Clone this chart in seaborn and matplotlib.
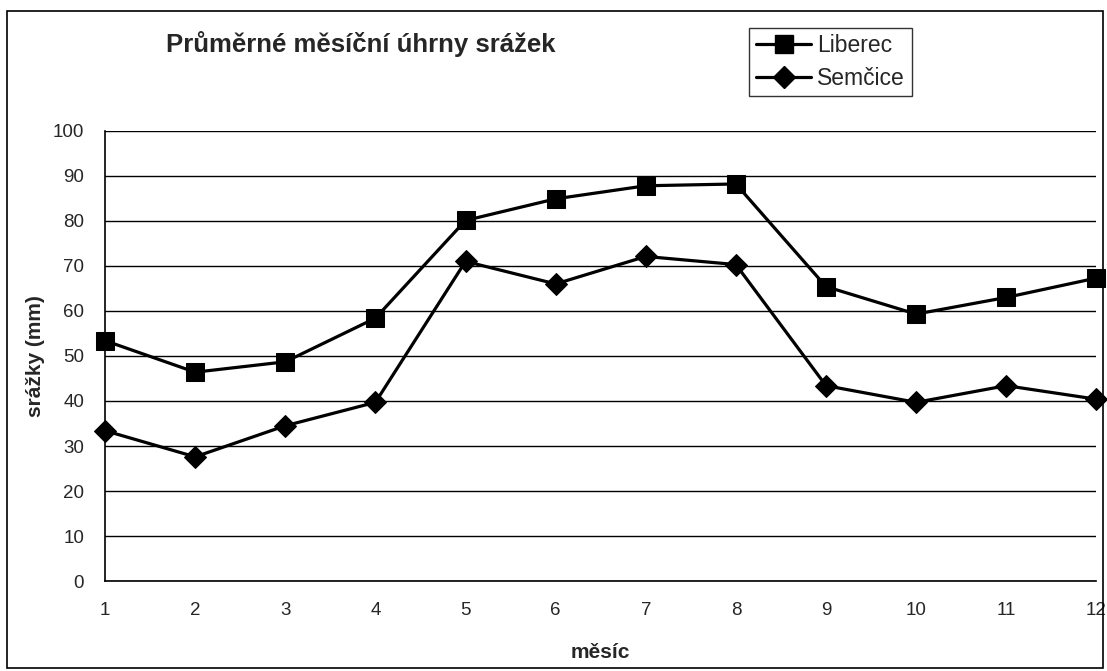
import pandas as pd
import matplotlib
matplotlib.use("Agg")
import matplotlib.pyplot as plt
import seaborn as sns

# --- DATA ---
months = list(range(1, 13))
liberec = [53.4, 46.4, 48.7, 58.4, 80.1, 84.9, 87.8, 88.2, 65.4, 59.3, 63.0, 67.3]
semcice = [33.4, 27.6, 34.5, 39.7, 71.0, 66.0, 72.1, 70.3, 43.4, 39.7, 43.4, 40.4]
y_ticks = list(range(0, 101, 10))

df = pd.DataFrame({
    "měsíc": months * 2,
    "srážky": liberec + semcice,
    "stanice": ["Liberec"] * 12 + ["Semčice"] * 12,
})

# --- STYLE ---
sns.set_theme(style="white")
plt.rcParams['font.family'] = ['Liberation Sans', 'DejaVu Sans']

fig = plt.figure(figsize=(11.07, 6.71), dpi=100)
ax = fig.add_axes([0.0949, 0.134, 0.8955, 0.671])

sns.lineplot(data=df, x="měsíc", y="srážky", hue="stanice", style="stanice",
             palette={"Liberec": "black", "Semčice": "black"},
             markers={"Liberec": "s", "Semčice": "D"}, dashes=False,
             linewidth=2.3, markersize=11, markeredgecolor="black",
             ax=ax, legend=False)
# square markers a bit bigger
for line, ms in zip(ax.lines, [13, 11]):
    line.set_markersize(ms)
    line.set_clip_on(False)

ax.set_xlim(1, 12)
ax.set_ylim(0, 100)
ax.set_xticks(months)
ax.set_yticks(y_ticks)
ax.yaxis.grid(True, color="black", linewidth=1)
ax.set_axisbelow(True)
for s in ["top", "right"]:
    ax.spines[s].set_visible(False)
for s in ["left", "bottom"]:
    ax.spines[s].set_color("black")
    ax.spines[s].set_linewidth(1.2)
ax.tick_params(axis="both", direction="out", length=6, width=1, color="black",
               labelsize=13.5, pad=9)
ax.set_xlabel("měsíc", fontsize=15, fontweight="bold", labelpad=17)
ax.set_ylabel("srážky (mm)", fontsize=15, fontweight="bold", labelpad=6)

fig.text(0.326, 0.9225, "Průměrné měsíční úhrny srážek", fontsize=18.5,
         fontweight="bold", ha="center", va="baseline")

# legend
handles = [
    plt.Line2D([], [], color="black", lw=2.3, marker="s", markersize=13),
    plt.Line2D([], [], color="black", lw=2.3, marker="D", markersize=11),
]
leg = fig.legend(handles, ["Liberec", "Semčice"], loc="upper left",
                 bbox_to_anchor=(0.677, 0.959), frameon=True, fancybox=False,
                 fontsize=16.5, handlelength=2.4, handletextpad=0.25,
                 borderpad=0.3, labelspacing=0.4, borderaxespad=0)
leg.get_frame().set_edgecolor("black")
leg.get_frame().set_linewidth(1)

# outer border
fig.patches.append(plt.Rectangle((0.006, 0.004), 0.99, 0.98, transform=fig.transFigure,
                                 fill=False, edgecolor="black", linewidth=1.2))

fig.savefig("out.png", dpi=100)
